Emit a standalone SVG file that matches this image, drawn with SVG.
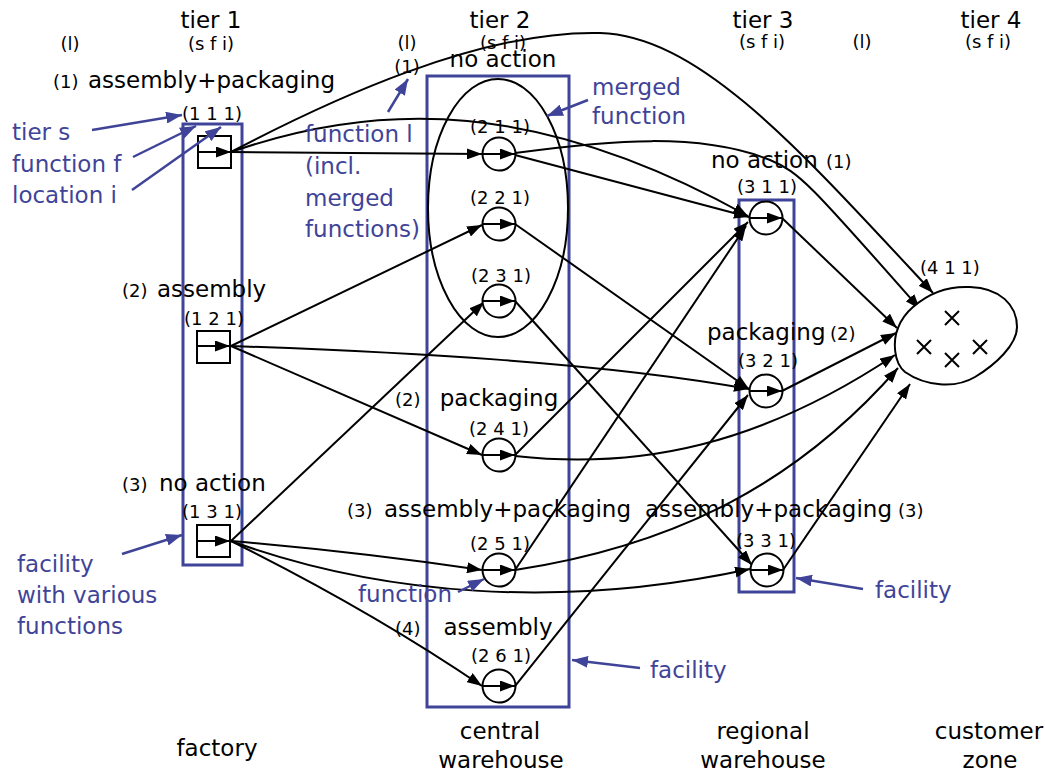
<svg xmlns="http://www.w3.org/2000/svg" width="1045" height="776" viewBox="0 0 1045 776">
<defs>
<marker id="ah" markerUnits="userSpaceOnUse" markerWidth="15" markerHeight="11" refX="15" refY="5.5" orient="auto"><path d="M0,0 L15,5.5 L0,11 Z" fill="#000"/></marker>
<marker id="bh" markerUnits="userSpaceOnUse" markerWidth="16" markerHeight="12" refX="16" refY="6" orient="auto"><path d="M0,0 L16,6 L0,12 Z" fill="#3f4498"/></marker>
<style>
text{font-family:"DejaVu Sans","Liberation Sans",sans-serif;fill:#000}
.m{font-size:23px}
.s{font-size:18px}
.b{font-size:23px;fill:#3f4498}
.c{text-anchor:middle}
.fac{fill:none;stroke:#3f4498;stroke-width:3}
.nd{fill:#fff;stroke:#000;stroke-width:2}
.ln{fill:none;stroke:#000;stroke-width:2;marker-end:url(#ah)}
.bl{fill:none;stroke:#3f4498;stroke-width:2.5;marker-end:url(#bh)}
</style>
</defs>
<rect width="1045" height="776" fill="#fff"/>

<g id="headers">
<text class="m c" x="211" y="28">tier 1</text>
<text class="s c" x="211" y="50">(s f i)</text>
<text class="s c" x="70" y="50">(l)</text>
<text class="m c" x="500" y="28">tier 2</text>
<text class="s c" x="407" y="49">(l)</text>
<text class="s c" x="503" y="49">(s f i)</text>
<text class="m c" x="763" y="28">tier 3</text>
<text class="s c" x="762" y="48">(s f i)</text>
<text class="s c" x="862" y="48">(l)</text>
<text class="m c" x="991" y="28">tier 4</text>
<text class="s c" x="988" y="48">(s f i)</text>
</g>

<g id="facility1"><rect class="fac" x="183" y="124" width="59" height="441"/></g>
<g id="facility2"><rect class="fac" x="427" y="76" width="142" height="631"/></g>
<g id="facility3"><rect class="fac" x="739" y="200" width="55" height="392"/></g>
<g id="merged"><ellipse cx="498" cy="208" rx="70" ry="129" fill="none" stroke="#000" stroke-width="2"/></g>

<g id="connectors">
<path class="ln" d="M231 152 L482 154"/>
<path class="ln" d="M231 152 C380 100 540 100 748 216"/>
<path class="ln" d="M231 152 C330 100 480 30 600 33 C700 36 800 150 933 293"/>
<path class="ln" d="M515 155 L749 217"/>
<path class="ln" d="M515 153 C610 140 700 132 770 160 C800 172 815 190 920 309"/>
<path class="ln" d="M515 224 L749 389"/>
<path class="ln" d="M515 301 L752 565"/>
<path class="ln" d="M515 455 L748 222"/>
<path class="ln" d="M515 456 C640 470 760 445 895 355"/>
<path class="ln" d="M515 570 L746 226"/>
<path class="ln" d="M515 570 C680 545 800 480 898 368"/>
<path class="ln" d="M515 686 L748 395"/>
<path class="ln" d="M231 346 L482 225"/>
<path class="ln" d="M231 346 C400 352 600 362 749 389"/>
<path class="ln" d="M231 346 L482 455"/>
<path class="ln" d="M231 541 L484 302"/>
<path class="ln" d="M231 541 Q360 552 482 570"/>
<path class="ln" d="M231 541 C380 595 560 610 750 569"/>
<path class="ln" d="M231 541 Q370 610 482 686"/>
<path class="ln" d="M782 218 L897 328"/>
<path class="ln" d="M782 391 L896 333"/>
<path class="ln" d="M783 570 L910 384"/>
</g>

<g id="n111"><rect class="nd" x="198" y="136" width="33" height="32"/><path class="ln" d="M198 152 L231 152"/>
<text class="s c" x="212" y="120">(1 1 1)</text>
<text class="s" x="53" y="88">(1)</text><text class="m" x="88" y="88">assembly+packaging</text></g>
<g id="n121"><rect class="nd" x="197" y="331" width="33" height="32"/><path class="ln" d="M197 346 L230 346"/>
<text class="s c" x="214" y="325">(1 2 1)</text>
<text class="s" x="122" y="297">(2)</text><text class="m" x="157" y="297">assembly</text></g>
<g id="n131"><rect class="nd" x="197" y="525" width="33" height="32"/><path class="ln" d="M197 541 L230 541"/>
<text class="s c" x="212" y="518">(1 3 1)</text>
<text class="s" x="122" y="491">(3)</text><text class="m" x="159" y="491">no action</text></g>

<g id="n211"><circle class="nd" cx="499" cy="154" r="16.5"/><path class="ln" d="M482 154 L515 154"/>
<text class="s c" x="500" y="133">(2 1 1)</text>
<text class="m c" x="503" y="67">no action</text><text class="s c" x="407" y="73">(1)</text></g>
<g id="n221"><circle class="nd" cx="499" cy="224" r="16.5"/><path class="ln" d="M482 224 L515 224"/>
<text class="s c" x="500" y="204">(2 2 1)</text></g>
<g id="n231"><circle class="nd" cx="499" cy="301" r="16.5"/><path class="ln" d="M482 301 L515 301"/>
<text class="s c" x="501" y="282">(2 3 1)</text></g>
<g id="n241"><circle class="nd" cx="499" cy="455" r="16.5"/><path class="ln" d="M482 455 L515 455"/>
<text class="s c" x="499" y="435">(2 4 1)</text>
<text class="s" x="395" y="406">(2)</text><text class="m c" x="499" y="406">packaging</text></g>
<g id="n251"><circle class="nd" cx="499" cy="570" r="16.5"/><path class="ln" d="M482 570 L515 570"/>
<text class="s c" x="500" y="550">(2 5 1)</text>
<text class="s" x="347" y="517">(3)</text><text class="m" x="384" y="517">assembly+packaging</text></g>
<g id="n261"><circle class="nd" cx="499" cy="686" r="16.5"/><path class="ln" d="M482 686 L515 686"/>
<text class="s c" x="501" y="662">(2 6 1)</text>
<text class="s" x="395" y="635">(4)</text><text class="m c" x="498" y="635">assembly</text></g>

<g id="n311"><circle class="nd" cx="766" cy="218" r="16.5"/><path class="ln" d="M749 218 L782 218"/>
<text class="s c" x="767" y="193">(3 1 1)</text>
<text class="m" x="711" y="168">no action</text><text class="s" x="826" y="168">(1)</text></g>
<g id="n321"><circle class="nd" cx="766" cy="391" r="16.5"/><path class="ln" d="M749 391 L782 391"/>
<text class="s c" x="768" y="367">(3 2 1)</text>
<text class="m" x="707" y="340">packaging</text><text class="s" x="830" y="340">(2)</text></g>
<g id="n331"><circle class="nd" cx="767" cy="570" r="16.5"/><path class="ln" d="M750 570 L783 570"/>
<text class="s c" x="766" y="547">(3 3 1)</text>
<text class="m" x="645" y="517">assembly+packaging</text><text class="s" x="898" y="517">(3)</text></g>

<g id="n411">
<path d="M913 307 C930 292 950 286 970 287 C1000 288 1017 305 1017 327 C1017 345 995 365 975 377 C955 389 925 386 905 372 C893 362 893 340 898 328 C901 320 906 313 913 307 Z" fill="#fff" stroke="#000" stroke-width="2"/>
<g stroke="#000" stroke-width="2">
<path d="M945 311 L959 325 M959 311 L945 325"/>
<path d="M917 340 L931 354 M931 340 L917 354"/>
<path d="M945 353 L959 367 M959 353 L945 367"/>
<path d="M973 340 L987 354 M987 340 L973 354"/>
</g>
<text class="s" x="920" y="274">(4 1 1)</text>
</g>

<g id="footers">
<text class="m c" x="217" y="756">factory</text>
<text class="m c" x="500" y="739">central</text>
<text class="m c" x="501" y="768">warehouse</text>
<text class="m c" x="763" y="739">regional</text>
<text class="m c" x="763" y="768">warehouse</text>
<text class="m c" x="989" y="739">customer</text>
<text class="m c" x="990" y="768">zone</text>
</g>

<g id="annotations">
<text class="b" x="12" y="140">tier s</text>
<text class="b" x="12" y="172">function f</text>
<text class="b" x="12" y="203">location i</text>
<path class="bl" d="M92 130 L182 115"/>
<path class="bl" d="M133 157 L196 126"/>
<path class="bl" d="M132 190 L221 127"/>
<text class="b" x="305" y="142">function l</text>
<text class="b" x="305" y="174">(incl.</text>
<text class="b" x="305" y="206">merged</text>
<text class="b" x="305" y="237">functions)</text>
<path class="bl" d="M388 112 L408 79"/>
<text class="b" x="592" y="95">merged</text>
<text class="b" x="592" y="124">function</text>
<path class="bl" d="M588 100 L547 116"/>
<text class="b" x="17" y="572">facility</text>
<text class="b" x="17" y="603">with various</text>
<text class="b" x="17" y="634">functions</text>
<path class="bl" d="M122 554 L182 535"/>
<text class="b" x="358" y="602">function</text>
<path class="bl" d="M458 592 L484 579"/>
<text class="b" x="650" y="678">facility</text>
<path class="bl" d="M640 668 L572 660"/>
<text class="b" x="875" y="598">facility</text>
<path class="bl" d="M863 589 L796 578"/>
</g>
</svg>
